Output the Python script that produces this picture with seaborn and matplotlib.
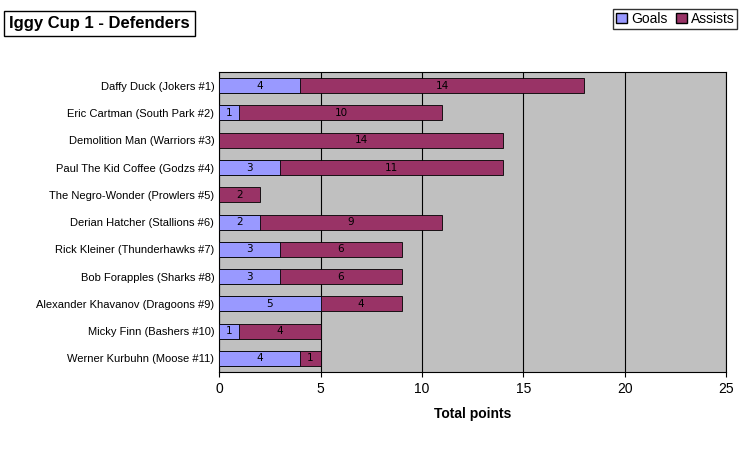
import matplotlib
matplotlib.use("Agg")
import matplotlib.pyplot as plt
import seaborn as sns
import pandas as pd

players = [
    "Daffy Duck (Jokers #1)", "Eric Cartman (South Park #2)", "Demolition Man (Warriors #3)",
    "Paul The Kid Coffee (Godzs #4)", "The Negro-Wonder (Prowlers #5)", "Derian Hatcher (Stallions #6)",
    "Rick Kleiner (Thunderhawks #7)", "Bob Forapples (Sharks #8)", "Alexander Khavanov (Dragoons #9)",
    "Micky Finn (Bashers #10)", "Werner Kurbuhn (Moose #11)",
]
goals = [4, 1, 0, 3, 0, 2, 3, 3, 5, 1, 4]
assists = [14, 10, 14, 11, 2, 9, 6, 6, 4, 4, 1]

df = pd.DataFrame({"player": players, "goals": goals, "assists": assists})
df["total"] = df["goals"] + df["assists"]

fig = plt.figure(figsize=(7.48, 4.65), dpi=100)
ax = fig.add_axes([0.293, 0.2, 0.678, 0.645])
ax.set_facecolor("#C0C0C0")

sns.barplot(data=df, x="total", y="player", color="#993366", width=0.55,
            edgecolor="black", linewidth=0.6, saturation=1, ax=ax, zorder=3)
sns.barplot(data=df, x="goals", y="player", color="#9999FF", width=0.55,
            edgecolor="black", linewidth=0.6, saturation=1, ax=ax, zorder=4)

for i, (g, a) in enumerate(zip(goals, assists)):
    if g > 0:
        ax.text(g / 2, i, str(g), ha="center", va="center", fontsize=7.5, zorder=5)
    if a > 0:
        ax.text(g + a / 2, i, str(a), ha="center", va="center", fontsize=7.5, zorder=5)

ax.set_xlim(0, 25)
ax.set_xticks([0, 5, 10, 15, 20, 25])
ax.xaxis.grid(True, color="black", linewidth=0.8, zorder=0)
ax.set_axisbelow(True)
ax.set_ylabel("")
ax.set_xlabel("Total points", fontsize=10, fontweight="bold", family="Liberation Sans", labelpad=8)
ax.tick_params(axis="y", labelsize=8, length=0)
ax.tick_params(axis="x", labelsize=10)
for lbl in ax.get_yticklabels() + ax.get_xticklabels():
    lbl.set_family("Liberation Sans")
for s in ax.spines.values():
    s.set_color("black")
    s.set_linewidth(0.8)

fig.text(0.012, 0.95, "Iggy Cup 1 - Defenders", fontsize=12, fontweight="bold",
         family="Liberation Sans", va="center",
         bbox=dict(facecolor="white", edgecolor="black", boxstyle="square,pad=0.3"))

from matplotlib.patches import Patch
handles = [Patch(facecolor="#9999FF", edgecolor="black", label="Goals"),
           Patch(facecolor="#993366", edgecolor="black", label="Assists")]
fig.legend(handles=handles, loc="upper right", bbox_to_anchor=(0.995, 0.995), ncol=2,
           frameon=True, fancybox=False, edgecolor="black", fontsize=10,
           handlelength=0.8, handletextpad=0.3, columnspacing=0.6, borderpad=0.2,
           prop={"family": "Liberation Sans", "size": 10})

fig.savefig("out.png", dpi=100)
